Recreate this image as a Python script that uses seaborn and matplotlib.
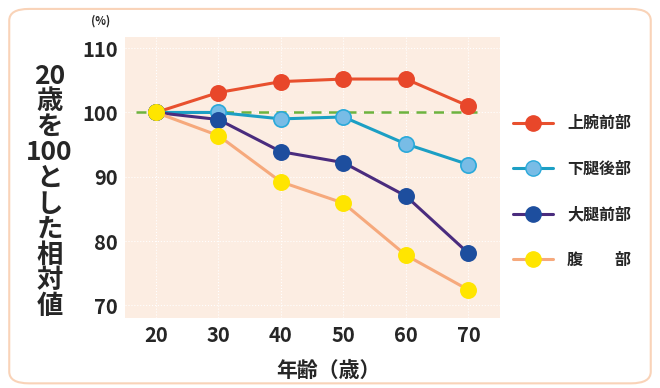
import pandas as pd
import seaborn as sns
import matplotlib.pyplot as plt
from matplotlib.lines import Line2D
from matplotlib.patches import FancyBboxPatch

# data
ages = [20, 30, 40, 50, 60, 70]
upper_arm_front = [100, 103.1, 104.8, 105.2, 105.2, 101.0]
lower_leg_back = [100, 100.0, 99.0, 99.3, 95.1, 91.9]
thigh_front = [100, 98.9, 93.9, 92.2, 87.0, 78.1]
abdomen = [100, 96.4, 89.2, 85.9, 77.8, 72.4]
series_names = ["上腕前部", "下腿後部", "大腿前部", "腹　　部"]
yticks = [70, 80, 90, 100, 110]

df = pd.DataFrame({
    "age": ages * 4,
    "value": upper_arm_front + lower_leg_back + thigh_front + abdomen,
    "part": [n for n in series_names for _ in ages],
})

sns.set_style("white")
plt.rcParams["font.family"] = ["Noto Sans CJK JP", "DejaVu Sans"]

line_colors = ["#E8502E", "#1C9FC4", "#4A2C7E", "#F6A97C"]
face_colors = ["#E8472A", "#78BCE6", "#1D4E9E", "#FFE500"]
edge_colors = ["#E8472A", "#2AA9DA", "#1D4E9E", "#FFE500"]

fig = plt.figure(figsize=(6.6, 3.88), dpi=100)
frame = FancyBboxPatch((0.014, 0.012), 0.972, 0.965, boxstyle="round,pad=0,rounding_size=0.03",
                       transform=fig.transFigure, facecolor="none", edgecolor="#F9D3B8", lw=1.5,
                       zorder=-1)
fig.patches.append(frame)

ax = fig.add_axes([0.189, 0.180, 0.568, 0.724])
ax.set_facecolor("#FCEDE2")

# reference line at 100
ax.axhline(100, color="#6DB33F", lw=1.8, ls=(0, (4, 3)), xmin=0.03, xmax=0.94, zorder=1)

handles = []
for i, name in enumerate(series_names):
    sub = df[df["part"] == name]
    sns.lineplot(data=sub, x="age", y="value", ax=ax, color=line_colors[i], lw=2.2,
                 marker="o", markersize=11, markerfacecolor=face_colors[i],
                 markeredgecolor=edge_colors[i], markeredgewidth=1.2, zorder=3 + i)
    handles.append(Line2D([], [], color=line_colors[i], lw=2.2, marker="o", markersize=11,
                          markerfacecolor=face_colors[i], markeredgecolor=edge_colors[i]))

ax.set_xlim(15, 75)
ax.set_ylim(68, 111.7)
ax.set_xticks(ages)
ax.set_yticks(yticks)
ax.grid(True, color="white", ls=":", lw=0.8)
for s in ax.spines.values():
    s.set_visible(False)
ax.tick_params(length=0, labelsize=14.5, pad=5)
for lab in ax.get_xticklabels() + ax.get_yticklabels():
    lab.set_fontweight("bold")
ax.set_xlabel("")
ax.set_ylabel("")

fig.text(0.497, 0.045, "年齢（歳）", ha="center", va="center", fontsize=15, fontweight="bold")
fig.text(0.152, 0.945, "(%)", ha="center", va="center", fontsize=8, fontweight="bold")
fig.text(0.075, 0.507, "20\n歳\nを\n100\nと\nし\nた\n相\n対\n値", ha="center", va="center",
         fontsize=19, fontweight="bold", linespacing=0.93)

fig.legend(handles=handles, labels=series_names, loc="upper left", bbox_to_anchor=(0.755, 0.74),
           frameon=False, prop={"weight": "bold", "size": 11.5},
           labelspacing=1.85, handlelength=2.5, handletextpad=0.9)

fig.savefig("out.png", dpi=100)
